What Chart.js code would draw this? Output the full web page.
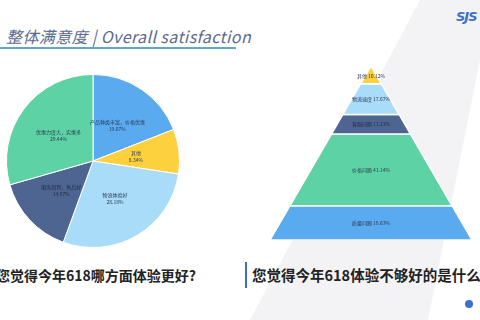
<!DOCTYPE html>
<html>
<head>
<meta charset="utf-8">
<script src="https://cdn.jsdelivr.net/npm/chart.js@4.4.1/dist/chart.umd.min.js"></script>
<style>
  html, body { margin: 0; padding: 0; background: #fff; }
  #page { position: relative; width: 480px; height: 320px; overflow: hidden; background: #fff; font-family: "Noto Sans CJK SC", "Noto Sans", sans-serif; }
  #band { position: absolute; left: 0; top: 0; width: 480px; height: 320px; background: #f3f3f5;
          clip-path: polygon(420px 0, 480px 0, 480px 60px, 428px 320px, 250px 320px); }
  #title { position: absolute; left: 6px; top: 24px; font-size: 16px; font-style: italic; color: #5b6a90; white-space: nowrap; letter-spacing: 0.4px; }
  #underline { position: absolute; left: 0; top: 47px; width: 236px; height: 2px; background: #5fa8c8; }
  #logo { position: absolute; left: 456px; top: 9px; font: bold italic 13px "DejaVu Sans", sans-serif; color: #3d6fd1; letter-spacing: -1px; }
  #pieWrap { position: absolute; left: 4px; top: 72px; width: 178px; height: 178px; }
  #pyrWrap { position: absolute; left: 270px; top: 66px; width: 202px; height: 174px; }
  .q { position: absolute; font-weight: bold; font-size: 14px; color: #222; white-space: nowrap; }
  #q1 { left: -4px; top: 265px; }
  #q2 { left: 252px; top: 264px; font-size: 14.5px; }
  #qbar { position: absolute; left: 245px; top: 262px; width: 2px; height: 26px; background: #3d6fd1; }
  #dot { position: absolute; left: 465px; top: 300px; width: 8px; height: 8px; border-radius: 50%; background: #3d6fd1; }
</style>
</head>
<body>
<div id="page">
  <div id="band"></div>
  <div id="title">整体满意度 | Overall satisfaction</div>
  <div id="underline"></div>
  <div id="logo">SJS</div>
  <div id="pieWrap"><canvas id="pieChart"></canvas></div>
  <div id="pyrWrap"><canvas id="pyrChart"></canvas></div>
  <div class="q" id="q1">您觉得今年618哪方面体验更好?</div>
  <div id="qbar"></div>
  <div class="q" id="q2">您觉得今年618体验不够好的是什么</div>
  <div id="dot"></div>
</div>
<script>
// pie: which part of 618 was better
const pieLabels = ['产品种类丰富，价格优惠', '其他', '物流体验好', '服务周到，售后好', '优惠力度大，实惠多'];
const pieValues = [19.07, 8.34, 28.18, 14.97, 29.44];
const pieColors = ['#5aaaf0', '#fcd13d', '#a9dcf8', '#4f6591', '#5dd2a4'];

// pyramid: what was not good enough (top to bottom)
const pyrLabels = ['其他', '物流速度', '客服问题', '价格问题', '质量问题'];
const pyrValues = [10.12, 17.67, 11.21, 41.14, 19.63];
const pyrColors = ['#fcd13d', '#a9dcf8', '#4f6591', '#5dd2a4', '#5aaaf0'];

// draws the small two-line label at the middle of each pie slice
const pieLabelPlugin = {
    id: 'pieLabels',
    afterDatasetsDraw(chart) {
        const ctx = chart.ctx;
        const meta = chart.getDatasetMeta(0);
        ctx.save();
        ctx.font = '5px "Noto Sans CJK SC", sans-serif';
        ctx.textAlign = 'center';
        ctx.textBaseline = 'middle';
        meta.data.forEach((arc, i) => {
            const p = arc.tooltipPosition();
            ctx.fillStyle = i === 3 ? '#1f2a44' : '#2b3a55';
            ctx.fillText(pieLabels[i], p.x, p.y - 3);
            ctx.fillText(pieValues[i].toFixed(2) + '%', p.x, p.y + 4);
        });
        ctx.restore();
    }
};

new Chart(document.getElementById('pieChart').getContext('2d'), {
    type: 'pie',
    data: {
        labels: pieLabels,
        datasets: [{ data: pieValues, backgroundColor: pieColors, borderColor: '#ffffff', borderWidth: 1 }]
    },
    options: {
        responsive: true,
        maintainAspectRatio: false,
        animation: false,
        layout: { padding: 2 },
        plugins: { legend: { display: false }, tooltip: { enabled: false } }
    },
    plugins: [pieLabelPlugin]
});

// build the pyramid layers from the values: width grows linearly from the apex
const pyrTotal = pyrValues.reduce((s, v) => s + v, 0);
let cum = 0;
const pyrDatasets = pyrValues.map((v, i) => {
    const a = cum, b = cum + v;
    cum = b;
    const wa = a / pyrTotal, wb = b / pyrTotal;
    return {
        label: pyrLabels[i],
        data: [
            { x: -wb, y: pyrTotal - b }, { x: wb, y: pyrTotal - b },
            { x: wa, y: pyrTotal - a }, { x: -wa, y: pyrTotal - a },
            { x: -wb, y: pyrTotal - b }
        ],
        showLine: true,
        fill: 'shape',
        backgroundColor: pyrColors[i],
        borderColor: '#ffffff',
        borderWidth: 1.5,
        pointRadius: 0,
        tension: 0
    };
});

const pyrLabelPlugin = {
    id: 'pyrLabels',
    afterDatasetsDraw(chart) {
        const ctx = chart.ctx;
        const ys = chart.scales.y, xs = chart.scales.x;
        ctx.save();
        ctx.font = '5px "Noto Sans CJK SC", sans-serif';
        ctx.textAlign = 'center';
        ctx.textBaseline = 'middle';
        let c = 0;
        pyrValues.forEach((v, i) => {
            const mid = i === 0 ? pyrTotal - c - v * 0.6 : pyrTotal - c - v / 2;
            c += v;
            ctx.fillStyle = i === 2 ? '#1f2a44' : '#2b3a55';
            ctx.fillText(pyrLabels[i] + ' ' + v.toFixed(2) + '%', xs.getPixelForValue(0), ys.getPixelForValue(mid));
        });
        ctx.restore();
    }
};

new Chart(document.getElementById('pyrChart').getContext('2d'), {
    type: 'scatter',
    data: { datasets: pyrDatasets },
    options: {
        responsive: true,
        maintainAspectRatio: false,
        animation: false,
        layout: { padding: 0 },
        scales: {
            x: { display: false, min: -1, max: 1 },
            y: { display: false, min: 0, max: pyrTotal }
        },
        plugins: { legend: { display: false }, tooltip: { enabled: false } }
    },
    plugins: [pyrLabelPlugin]
});
</script>
</body>
</html>
